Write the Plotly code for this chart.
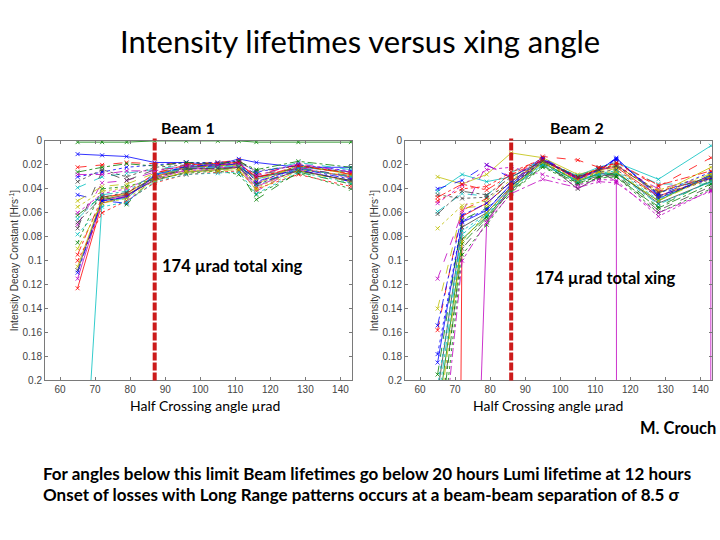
import plotly.graph_objects as go

# ---------------- data ----------------
angles_b1 = [65, 72, 79, 87, 96, 105, 111, 116, 128, 143]
angles_b2 = [65, 72, 79, 86, 95, 105, 111, 116, 128, 143]

beam1 = [
    [0.011, 0.012, 0.013, 0.018, 0.018, 0.020, 0.015, 0.018, 0.022, 0.022],
    [0.001, 0.001, 0.001, 0.000, 0.000, 0.000, 0.000, 0.001, 0.001, 0.001],
    [0.123, 0.052, 0.046, 0.030, 0.022, 0.020, 0.019, 0.030, 0.023, 0.030],
    [0.380, 0.050, 0.048, 0.028, 0.021, 0.020, 0.020, 0.032, 0.022, 0.026],
    [0.115, 0.050, 0.046, 0.032, 0.024, 0.022, 0.022, 0.038, 0.024, 0.034],
    [0.105, 0.048, 0.044, 0.030, 0.022, 0.021, 0.020, 0.036, 0.020, 0.028],
    [0.108, 0.049, 0.045, 0.033, 0.026, 0.024, 0.022, 0.030, 0.025, 0.033],
    [0.045, 0.050, 0.052, 0.028, 0.022, 0.021, 0.019, 0.036, 0.024, 0.034],
    [0.062, 0.046, 0.053, 0.030, 0.024, 0.023, 0.024, 0.049, 0.026, 0.036],
    [0.022, 0.020, 0.018, 0.019, 0.019, 0.018, 0.016, 0.028, 0.020, 0.028],
    [0.039, 0.030, 0.027, 0.024, 0.020, 0.019, 0.018, 0.027, 0.018, 0.024],
    [0.070, 0.035, 0.033, 0.026, 0.023, 0.022, 0.021, 0.042, 0.022, 0.030],
    [0.050, 0.038, 0.036, 0.027, 0.022, 0.021, 0.020, 0.033, 0.021, 0.027],
    [0.073, 0.025, 0.033, 0.024, 0.022, 0.020, 0.019, 0.028, 0.023, 0.029],
    [0.030, 0.026, 0.022, 0.020, 0.018, 0.018, 0.017, 0.026, 0.020, 0.025],
    [0.085, 0.040, 0.038, 0.032, 0.027, 0.025, 0.028, 0.045, 0.027, 0.040],
    [0.100, 0.060, 0.050, 0.035, 0.028, 0.026, 0.025, 0.040, 0.028, 0.038],
    [0.078, 0.055, 0.051, 0.034, 0.028, 0.027, 0.026, 0.044, 0.026, 0.035],
    [0.060, 0.044, 0.040, 0.029, 0.025, 0.023, 0.022, 0.035, 0.022, 0.031],
    [0.055, 0.042, 0.039, 0.031, 0.025, 0.024, 0.023, 0.039, 0.024, 0.029],
    [0.034, 0.024, 0.030, 0.022, 0.020, 0.019, 0.018, 0.025, 0.021, 0.026],
    [0.110, 0.050, 0.047, 0.029, 0.021, 0.020, 0.018, 0.034, 0.023, 0.032],
    [0.026, 0.022, 0.019, 0.021, 0.018, 0.019, 0.017, 0.024, 0.017, 0.022],
    [0.095, 0.047, 0.044, 0.027, 0.020, 0.019, 0.018, 0.031, 0.021, 0.027],
    [0.065, 0.045, 0.042, 0.028, 0.023, 0.022, 0.021, 0.037, 0.023, 0.030],
    [0.028, 0.028, 0.025, 0.025, 0.021, 0.020, 0.019, 0.029, 0.019, 0.026],
    [0.090, 0.052, 0.048, 0.033, 0.026, 0.025, 0.024, 0.041, 0.025, 0.034],
    [0.068, 0.047, 0.043, 0.031, 0.023, 0.023, 0.022, 0.036, 0.025, 0.033],
]

beam2 = [
    [0.185, 0.068, 0.058, 0.036, 0.015, 0.031, 0.025, 0.014, 0.048, 0.030],
    [0.230, 0.082, 0.063, 0.040, 0.018, 0.034, 0.027, 0.027, 0.050, 0.028],
    [3.000, 0.063, 0.052, 0.034, 0.016, 0.030, 0.024, 0.022, 0.046, 0.031],
    [0.042, 0.028, 0.034, 0.030, 0.017, 0.029, 0.022, 0.018, 0.032, 0.004],
    [0.900, 0.670, 0.068, 0.038, 0.016, 0.032, 0.025, 0.034, 50.00, 0.042],
    [0.030, 0.036, 0.028, 0.010, 0.014, 0.028, 0.024, 0.020, 0.044, 0.022],
    [0.210, 0.072, 0.060, 0.038, 0.017, 0.040, 0.030, 0.026, 0.052, 0.034],
    [0.040, 0.033, 0.020, 0.031, 0.014, 0.031, 0.023, 0.015, 0.045, 0.029],
    [0.195, 0.066, 0.056, 0.037, 0.019, 0.033, 0.028, 0.028, 0.055, 0.033],
    [0.158, 0.058, 0.048, 0.029, 0.013, 0.016, 0.022, 0.019, 0.038, 0.014],
    [0.059, 0.044, 0.046, 0.026, 0.017, 0.029, 0.023, 0.020, 0.036, 0.036],
    [0.115, 0.060, 0.020, 0.030, 0.016, 0.031, 0.024, 0.021, 0.040, 0.030],
    [0.140, 0.056, 0.054, 0.033, 0.018, 0.030, 0.026, 0.023, 0.047, 0.027],
    [0.250, 0.090, 0.066, 0.041, 0.020, 0.035, 0.029, 0.029, 0.058, 0.038],
    [0.178, 0.067, 0.057, 0.037, 0.016, 0.031, 0.024, 0.016, 0.044, 0.026],
    [0.280, 0.095, 0.070, 0.043, 0.022, 0.036, 0.031, 0.030, 0.060, 0.040],
    [0.050, 0.040, 0.038, 0.026, 0.015, 0.030, 0.023, 0.020, 0.042, 0.031],
    [0.205, 0.075, 0.061, 0.039, 0.019, 0.033, 0.027, 0.025, 0.049, 0.029],
    [0.052, 0.037, 0.024, 0.022, 0.028, 0.037, 0.032, 0.033, 0.063, 0.041],
    [0.073, 0.054, 0.050, 0.032, 0.017, 0.032, 0.025, 0.022, 0.041, 0.028],
    [0.045, 0.048, 0.047, 0.035, 0.018, 0.033, 0.026, 0.024, 0.047, 0.032],
    [0.154, 0.062, 0.052, 0.034, 0.015, 0.032, 0.024, 0.015, 0.046, 0.031],
    [0.260, 0.086, 0.064, 0.042, 0.021, 0.035, 0.030, 0.030, 0.056, 0.036],
    [0.047, 0.036, 0.041, 0.028, 0.016, 0.032, 0.023, 0.018, 0.037, 0.025],
    [0.220, 0.078, 0.062, 0.040, 0.020, 0.034, 0.028, 0.027, 0.053, 0.034],
    [0.300, 0.100, 0.068, 0.044, 0.032, 0.039, 0.034, 0.035, 0.060, 0.042],
    [0.240, 0.084, 0.060, 0.039, 0.018, 0.033, 0.026, 0.026, 0.050, 0.030],
    [0.061, 0.042, 0.045, 0.030, 0.017, 0.030, 0.024, 0.021, 0.043, 0.030],
]

xing_limit = [87, 86]          # half crossing angle of the 174 urad total xing
x_ticks = [60, 70, 80, 90, 100, 110, 120, 130, 140]
y_ticks = [0, 0.02, 0.04, 0.06, 0.08, 0.1, 0.12, 0.14, 0.16, 0.18, 0.2]

# ---------------- style ----------------
colors = ["#0000ff", "#008000", "#ff0000", "#00bfbf", "#bf00bf", "#bfbf00", "#404040"]
dashes = ["solid", "dash", "dot", "dashdot"]
FONT = "Lato"

fig = go.Figure()

def add_beam(series, xs, xa, ya):
    for i, ys in enumerate(series):
        fig.add_trace(go.Scatter(
            x=xs, y=ys, xaxis=xa, yaxis=ya, mode="lines+markers",
            line=dict(color=colors[i % 7], width=0.8, dash=dashes[(i // 7) % 4]),
            marker=dict(symbol="x-thin", size=4, line=dict(width=0.8, color=colors[i % 7])),
            showlegend=False, hoverinfo="skip", cliponaxis=True))

add_beam(beam1, angles_b1, "x", "y")
add_beam(beam2, angles_b2, "x2", "y2")

axis_common = dict(showgrid=False, zeroline=False, showline=True, mirror="ticks",
                   linecolor="#7a7a7a", linewidth=1, ticks="inside", ticklen=3,
                   tickcolor="#7a7a7a", tickfont=dict(family="Liberation Sans", size=10, color="#444"))

top_px, bot_px = 138, 383
ydom = [1 - bot_px / 540, 1 - top_px / 540]

fig.update_layout(
    width=720, height=540, margin=dict(l=0, r=0, t=0, b=0),
    paper_bgcolor="white", plot_bgcolor="white",
    xaxis=dict(domain=[45 / 720, 352 / 720], range=[55.7, 143.3], tickvals=x_ticks, anchor="y", **axis_common),
    yaxis=dict(domain=ydom, range=[0.2, 0], tickvals=y_ticks, anchor="x", **axis_common),
    xaxis2=dict(domain=[405 / 720, 712 / 720], range=[55.7, 143.3], tickvals=x_ticks, anchor="y2", **axis_common),
    yaxis2=dict(domain=ydom, range=[0.2, 0], tickvals=y_ticks, anchor="x2", **axis_common),
)

for xv, xr in zip(xing_limit, ["x", "x2"]):
    fig.add_shape(type="line", xref=xr, yref=("y domain" if xr == "x" else "y2 domain"),
                  x0=xv, x1=xv, y0=0, y1=1.01,
                  line=dict(color="#cc1a1a", width=4, dash="8px,2px"))

def ann(text, x, y, size, bold=False, xanchor="center", color="black", angle=0, family=FONT):
    fig.add_annotation(text=(f"<b>{text}</b>" if bold else text), x=x / 720, y=1 - y / 540,
                       xref="paper", yref="paper", xanchor=xanchor, yanchor="middle",
                       showarrow=False, textangle=angle,
                       font=dict(family=family, size=size, color=color))

ann("Intensity lifetimes versus xing angle", 360, 36, 31)
ann("Beam 1", 188, 124, 16, bold=True)
ann("Beam 2", 577, 124, 16, bold=True)
ann("174 µrad total xing", 160, 266, 16.5, bold=True, xanchor="left")
ann("174 µrad total xing", 533, 278, 16.5, bold=True, xanchor="left")
ann("Half Crossing angle µrad", 205, 409, 14)
ann("Half Crossing angle µrad", 548, 409, 14)
ann("Intensity Decay Constant [Hrs<sup>-1</sup>]", 14, 260, 10, angle=-90, color="#333", family="Liberation Sans")
ann("Intensity Decay Constant [Hrs<sup>-1</sup>]", 374, 260, 10, angle=-90, color="#333", family="Liberation Sans")
ann("M. Crouch", 718, 432, 16.5, bold=True, xanchor="right")
ann("For angles below this limit Beam lifetimes go below 20 hours Lumi lifetime at 12 hours", 41, 478, 17, bold=True, xanchor="left")
ann("Onset of losses with Long Range patterns occurs at a beam-beam separation of 8.5 σ", 41, 500, 17, bold=True, xanchor="left")

fig.write_html("out.html", config={"displayModeBar": False})

# remove the browser's default page margin so the 720x540 figure fills the window exactly
with open("out.html", encoding="utf-8") as f:
    html = f.read()
html = html.replace("<head>", "<head><style>html,body{margin:0;padding:0;overflow:hidden;}</style>", 1)
with open("out.html", "w", encoding="utf-8") as f:
    f.write(html)
